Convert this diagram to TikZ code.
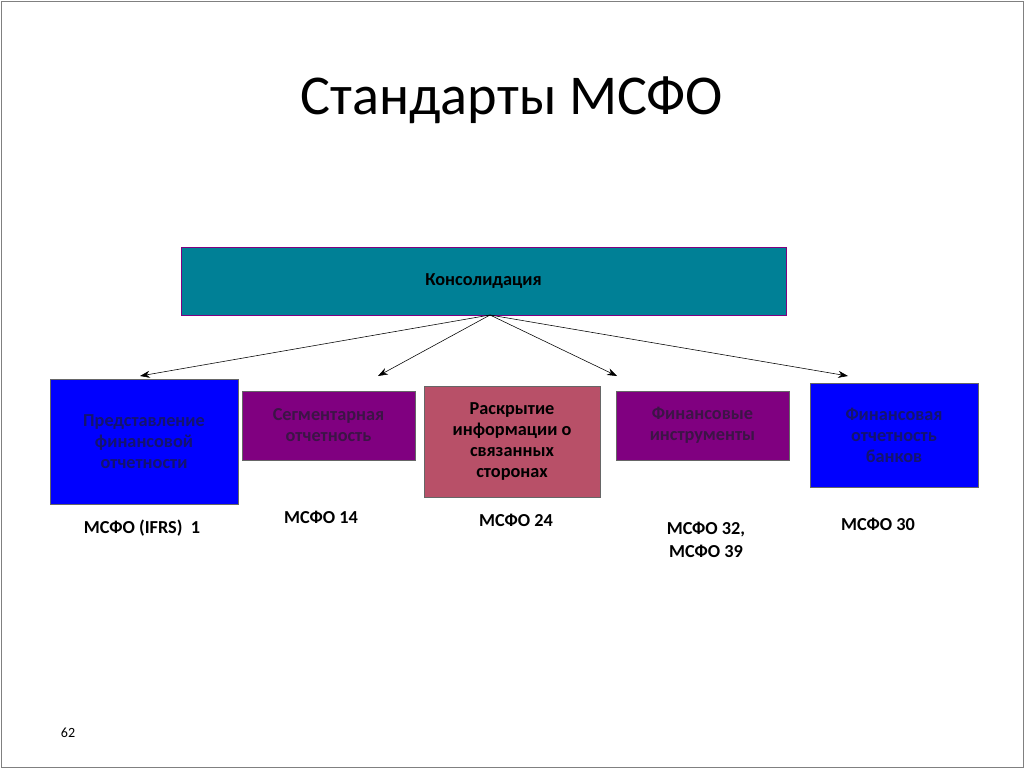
\documentclass[tikz,border=0pt]{standalone}
\usepackage{fontspec}
\setmainfont{Carlito}
\usetikzlibrary{arrows.meta}
\definecolor{tealbox}{RGB}{0,128,150}
\definecolor{rosebox}{RGB}{184,80,104}
\definecolor{navytext}{RGB}{20,20,110}
\definecolor{grayprp}{RGB}{60,20,70}
\tikzset{
  capBox/.style={rectangle, draw=black!60, thin, align=center, font=\bfseries\fontsize{13pt}{15pt}\selectfont, inner sep=0pt},
  blueBox/.style={capBox, fill=blue, text=navytext},
  purpleBox/.style={capBox, fill=violet!70!red!60!black, fill={rgb,255:red,128;green,0;blue,128}, text=grayprp},
  arrow/.style={-{Stealth[length=7pt,width=5pt]}, thin},
  stdLabel/.style={align=center, font=\bfseries\fontsize{13pt}{16pt}\selectfont}
}
\begin{document}
\begin{tikzpicture}[x=0.025cm, y=-0.025cm]
    \useasboundingbox (0,0) rectangle (1024,768);
    \draw[black!50] (1,1) rectangle (1023,767);
    \node (title) at (512,100) {\fontsize{40pt}{44pt}\selectfont Стандарты МСФО};

    \node (cons)[capBox, fill=tealbox, draw=violet, minimum width=605*0.025cm, minimum height=68*0.025cm] at (483.5,281) {Консолидация};
    \coordinate (src) at (490,315);

    \node (pres)[blueBox, minimum width=188*0.025cm, minimum height=125*0.025cm] at (144,441.5) {Представление\\финансовой\\отчетности};
    \node (segm)[purpleBox, minimum width=173*0.025cm, minimum height=69*0.025cm] at (328.5,425.5) {Сегментарная\\отчетность};
    \node (rel)[capBox, fill=rosebox, minimum width=176*0.025cm, minimum height=111*0.025cm] at (512,441.5) {Раскрытие\\информации о\\связанных\\сторонах};
    \node (fin)[purpleBox, minimum width=173*0.025cm, minimum height=69*0.025cm] at (702.5,425.5) {Финансовые\\инструменты};
    \node (bank)[blueBox, minimum width=168*0.025cm, minimum height=104*0.025cm] at (894,435) {Финансовая\\отчетность\\банков};

    \coordinate (t1) at (140,376);
    \coordinate (t2) at (378,376);
    \coordinate (t3) at (617,376);
    \coordinate (t4) at (848,376);
    \foreach \t in {t1,t2,t3,t4}
        \draw[arrow] (src) -- (\t);

    \node (l1)[stdLabel] at (142,528) {МСФО (IFRS)\ \ 1};
    \node (l2)[stdLabel] at (321,517) {МСФО 14};
    \node (l3)[stdLabel] at (516,520) {МСФО 24};
    \node (l4)[stdLabel] at (706,540) {МСФО 32,\\МСФО 39};
    \node (l5)[stdLabel] at (878,524) {МСФО 30};

    \node (page) at (68,733) {\fontsize{10pt}{12pt}\selectfont 62};
\end{tikzpicture}
\end{document}
